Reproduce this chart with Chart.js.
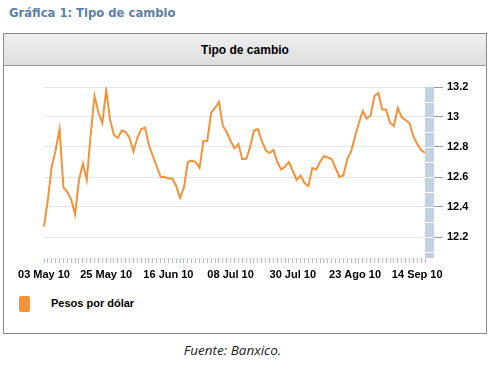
<!DOCTYPE html>
<html>
<head>
<meta charset="utf-8">
<script src="https://cdn.jsdelivr.net/npm/chart.js@4"></script>
<style>
  body { margin: 0; width: 501px; height: 367px; background: #fff; position: relative; overflow: hidden; font-family: 'Liberation Sans', Arial, sans-serif; }
  #titulo { position: absolute; left: 9px; top: 6px; font: bold 11.6px 'DejaVu Sans', Verdana, sans-serif; color: #5b7fa9; }
  #caja { position: absolute; left: 3px; top: 33px; width: 482px; height: 299px; border: 1px solid #8a8a8a; }
  #encabezado { position: absolute; left: 0; top: 0; width: 482px; height: 31px; border-bottom: 1px solid #9a9a9a;
    background: linear-gradient(#efefef, #dedede); text-align: center; font: bold 12px 'Liberation Sans', Arial; line-height: 32px; color: #000; }
  #grafica { position: absolute; left: 0; top: 66px; width: 501px; height: 230px; }
  #muestra { position: absolute; left: 19px; top: 296px; width: 11px; height: 16px; background: #f39339; border-radius: 2px; }
  #leyenda { position: absolute; left: 51px; top: 296px; font: bold 11px 'Liberation Sans', Arial; line-height: 15px; }
  #fuente { position: absolute; left: 0; width: 465px; top: 341px; text-align: center; font: italic 13.5px 'Open Sans', sans-serif; color: #222; }
</style>
</head>
<body>
<div id="titulo">Gráfica 1: Tipo de cambio</div>
<div id="caja"><div id="encabezado">Tipo de cambio</div></div>
<div id="grafica"><canvas id="tipoCambio"></canvas></div>
<div id="muestra"></div>
<div id="leyenda">Pesos por dólar</div>
<div id="fuente">Fuente: Banxico.</div>

<script>
// días hábiles por mes (2010)
const diasMay = ["03","04","05","06","07","10","11","12","13","14","17","18","19","20","21","24","25","26","27","28","31"];
const diasJun = ["01","02","03","04","07","08","09","10","11","14","15","16","17","18","21","22","23","24","25","28","29","30"];
const diasJul = ["01","02","05","06","07","08","09","12","13","14","15","16","19","20","21","22","23","26","27","28","29","30"];
const diasAgo = ["02","03","04","05","06","09","10","11","12","13","16","17","18","19","20","23","24","25","26","27","30","31"];
const diasSep = ["01","02","03","06","07","08","09","10","13","14","15","17"];

const fechas = [
  ...diasMay.map(d => d + " May 10"),
  ...diasJun.map(d => d + " Jun 10"),
  ...diasJul.map(d => d + " Jul 10"),
  ...diasAgo.map(d => d + " Ago 10"),
  ...diasSep.map(d => d + " Sep 10")
];

// pesos por dólar
const pesosPorDolar = [
  12.27, 12.45, 12.67, 12.78, 12.92, 12.53, 12.50, 12.45, 12.35, 12.58,
  12.69, 12.58, 12.88, 13.14, 13.03, 12.96, 13.18, 12.98, 12.88, 12.86,
  12.91, 12.90, 12.86, 12.77, 12.86, 12.92, 12.93, 12.81, 12.74, 12.67,
  12.60, 12.60, 12.59, 12.59, 12.54, 12.46, 12.53, 12.70, 12.71, 12.70,
  12.66, 12.84, 12.84, 13.03, 13.06, 13.10, 12.94, 12.90, 12.84, 12.79,
  12.82, 12.72, 12.72, 12.80, 12.91, 12.92, 12.84, 12.78, 12.76, 12.78,
  12.70, 12.65, 12.67, 12.70, 12.64, 12.58, 12.61, 12.56, 12.54, 12.66,
  12.65, 12.70, 12.74, 12.73, 12.72, 12.66, 12.60, 12.61, 12.72, 12.77,
  12.87, 12.96, 13.04, 12.99, 13.01, 13.14, 13.16, 13.05, 13.05, 12.96,
  12.94, 13.06, 13.00, 12.98, 12.96, 12.87, 12.82, 12.78, 12.76
];

const ticksY = [12.2, 12.4, 12.6, 12.8, 13, 13.2];
const cadaEtiqueta = 16;

// barra azul a la derecha del área de trazado
const barraDerecha = {
  id: 'barraDerecha',
  afterDraw(chart) {
    const { ctx, chartArea, scales } = chart;
    const y = scales.y;
    ctx.save();
    ctx.fillStyle = '#c3d1e0';
    ctx.fillRect(chartArea.right, chartArea.top, 9, chartArea.bottom - chartArea.top);
    ctx.strokeStyle = '#ffffff';
    ctx.lineWidth = 1;
    for (let v = 12.1; v < 13.15; v += 0.1) {
      const py = Math.round(y.getPixelForValue(v)) + 0.5;
      ctx.beginPath();
      ctx.moveTo(chartArea.right, py);
      ctx.lineTo(chartArea.right + 9, py);
      ctx.stroke();
    }
    ctx.restore();
  }
};

Chart.defaults.font.family = "'Liberation Sans', Arial, sans-serif";
Chart.defaults.color = '#000';

new Chart(document.getElementById('tipoCambio'), {
  type: 'line',
  data: {
    labels: fechas,
    datasets: [{
      label: 'Pesos por dólar',
      data: pesosPorDolar,
      borderColor: '#f39339',
      borderWidth: 2,
      pointRadius: 0,
      tension: 0,
      fill: false
    }]
  },
  options: {
    responsive: true,
    maintainAspectRatio: false,
    animation: false,
    layout: { padding: { left: 44, right: 16, top: 21, bottom: 8 } },
    plugins: { legend: { display: false }, tooltip: { enabled: false } },
    scales: {
      x: {
        offset: false,
        afterFit: s => { s.height = 30; },
        grid: { drawOnChartArea: false, drawTicks: true, tickLength: 5, tickColor: '#aebacb' },
        border: { display: true, color: '#e6e6e6' },
        ticks: {
          autoSkip: false,
          maxRotation: 0,
          padding: 5,
          font: { size: 11, weight: 'bold' },
          callback: (v, i) => (i % cadaEtiqueta === 0 ? fechas[i] : '')
        }
      },
      y: {
        position: 'right',
        min: 12.06,
        max: 13.2,
        afterFit: s => { s.width = 60; },
        afterBuildTicks: s => { s.ticks = ticksY.map(v => ({ value: v })); },
        grid: { color: '#e6e6e6', tickLength: 18, tickColor: '#9a9a9a' },
        border: { display: false },
        ticks: {
          padding: 4,
          font: { size: 11, weight: 'bold' },
          callback: v => String(v)
        }
      }
    }
  },
  plugins: [barraDerecha]
});
</script>
</body>
</html>
